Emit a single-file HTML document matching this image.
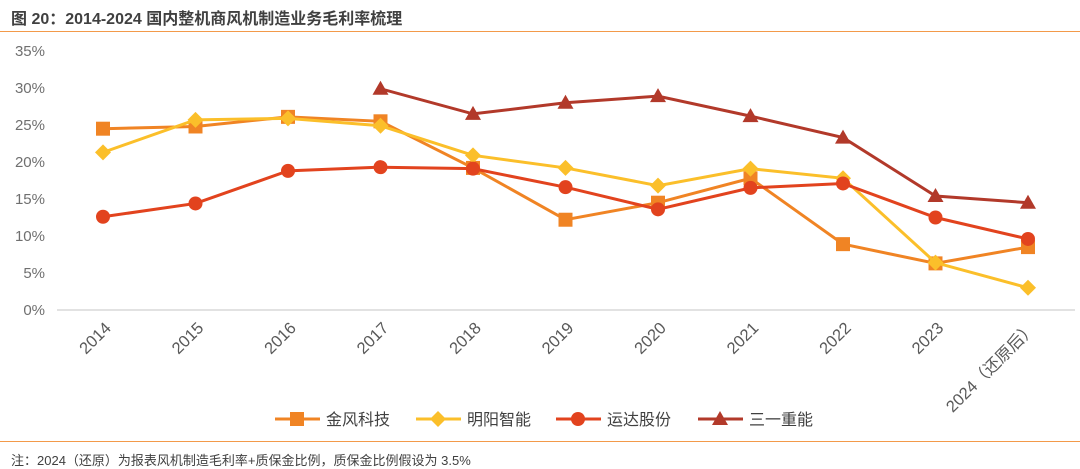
<!DOCTYPE html>
<html><head><meta charset="utf-8"><style>
body{margin:0;width:1080px;height:467px;background:#fff;overflow:hidden;font-family:"Liberation Sans","Noto Sans CJK SC",sans-serif;}
#title{position:absolute;left:11px;top:5px;font-size:16px;font-weight:bold;color:#404040;}
#tline{position:absolute;left:0;top:31px;width:1080px;height:1px;background:#F39A4A;}
#bline{position:absolute;left:0;top:441px;width:1080px;height:1px;background:#F39A4A;}
#note{position:absolute;left:11px;top:450px;font-size:13px;color:#404040;}
svg{position:absolute;left:0;top:0;}
</style></head><body>
<div id="title">图 20：2014-2024 国内整机商风机制造业务毛利率梳理</div>
<div id="tline"></div>
<svg id="chart" width="1080" height="440"></svg>
<div id="bline"></div>
<div id="note">注：2024（还原）为报表风机制造毛利率+质保金比例，质保金比例假设为 3.5%</div>
<script>
const categories=["2014","2015","2016","2017","2018","2019","2020","2021","2022","2023","2024（还原后）"];
const yTicks=[0,5,10,15,20,25,30,35];
const goldwind=[24.5,24.8,26.1,25.5,19.2,12.2,14.5,17.8,8.9,6.3,8.5];
const mingyang=[21.3,25.7,25.9,24.9,20.9,19.2,16.8,19.1,17.8,6.4,3.0];
const yunda=[12.6,14.4,18.8,19.3,19.1,16.6,13.6,16.5,17.1,12.5,9.6];
const sany=[null,null,null,29.9,26.5,28.0,28.9,26.2,23.3,15.4,14.5];
const seriesNames=["金风科技","明阳智能","运达股份","三一重能"];

const NS="http://www.w3.org/2000/svg";
const svg=document.getElementById('chart');
const x=i=>103+i*92.5;
const y=v=>310-v*7.4;
function mk(t,a){const e=document.createElementNS(NS,t);for(const k in a)e.setAttribute(k,a[k]);svg.appendChild(e);return e;}
let ax=mk('line',{x1:57,x2:1075,y1:310,y2:310,stroke:'#d9d9d9','stroke-width':1.5});


yTicks.forEach(v=>{const t=mk('text',{x:45,y:y(v)+5,'text-anchor':'end','font-size':15,fill:'#6f6f6f'});t.textContent=v+'%';

});
categories.forEach((c,i)=>{const tx=x(i)+9,ty=329;const t=mk('text',{x:tx,y:ty,'text-anchor':'end','font-size':16.5,fill:'#595959',transform:`rotate(-45 ${tx} ${ty})`});t.textContent=c;

});
function marker(type,cx,cy,col){let e;
 if(type==='sq')e=mk('rect',{x:cx-7,y:cy-7,width:14,height:14,fill:col});
 else if(type==='di')e=mk('polygon',{points:`${cx},${cy-8} ${cx+8},${cy} ${cx},${cy+8} ${cx-8},${cy}`,fill:col});
 else if(type==='ci')e=mk('circle',{cx:cx,cy:cy,r:7,fill:col});
 else e=mk('polygon',{points:`${cx},${cy-8} ${cx+8},${cy+6} ${cx-8},${cy+6}`,fill:col});
 return e;}
const defs=[[goldwind,'#F08424','sq','goldwind'],[mingyang,'#FBBF2A','di','mingyang'],[yunda,'#E2431E','ci','yunda'],[sany,'#B2392A','tr','sany']];
defs.forEach(([d,col,m,n])=>{
 const pts=[];d.forEach((v,i)=>{if(v!=null)pts.push(x(i)+','+y(v));});
 const p=mk('polyline',{points:pts.join(' '),fill:'none',stroke:col,'stroke-width':3});
 
 
 d.forEach((v,i)=>{if(v==null)return;const e=marker(m,x(i),y(v),col);
 
 });
});
const lx=[275,416,556,698];
defs.forEach(([d,col,m,n],k)=>{
 const l=mk('line',{x1:lx[k],x2:lx[k]+45,y1:419,y2:419,stroke:col,'stroke-width':3});
 
 
 const e=marker(m,lx[k]+22,419,col);
 
 
 const t=mk('text',{x:lx[k]+51,y:425,'font-size':16,fill:'#404040'});t.textContent=seriesNames[k];
 
 
});
</script>
</body></html>
